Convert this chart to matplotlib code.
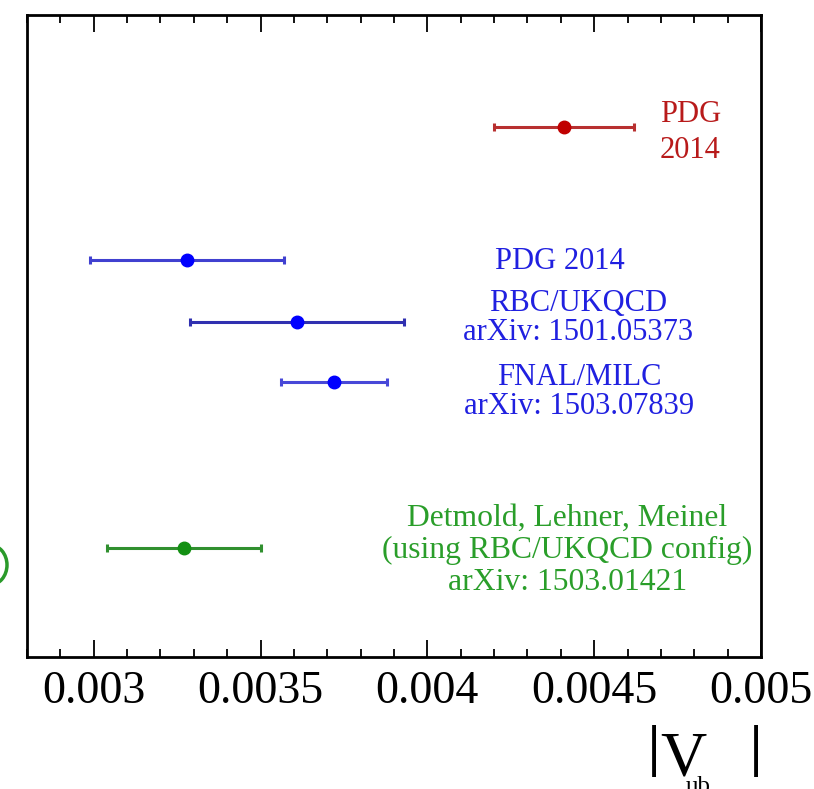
import matplotlib
matplotlib.use("Agg")
import matplotlib.pyplot as plt
from matplotlib.ticker import MultipleLocator, FixedLocator
from matplotlib.patches import Arc

plt.rcParams['font.family'] = ['Liberation Serif', 'DejaVu Serif']

# |V_ub| determinations: central value and symmetric error
labels = ["PDG\n2014",
          "PDG 2014",
          "RBC/UKQCD\narXiv: 1501.05373",
          "FNAL/MILC\narXiv: 1503.07839",
          "Detmold, Lehner, Meinel\n(using RBC/UKQCD config)\narXiv: 1503.01421"]
values = [0.00441, 0.00328, 0.00361, 0.00372, 0.00327]
errors = [0.00021, 0.00029, 0.00032, 0.00016, 0.00023]
rows = [8.67, 6.5, 5.48, 4.5, 1.78]
colors = ["#b81a1a", "#2020e0", "#2020e0", "#2020e0", "#2a9e2a"]
line_colors = ["#b83030", "#4040d0", "#3030b0", "#4848d8", "#30902f"]
marker_colors = ["#c00000", "#0000ff", "#0000ff", "#0000ff", "#139013"]
label_x = [0.004788, 0.004398, 0.004452, 0.004455, 0.004420]
label_rows = [8.58, 6.47, 5.55, 4.34, 1.74]
label_sizes = [22, 22, 22, 22, 22.8]
label_spacing = [1.32, 1.0, 1.0, 1.0, 1.14]

xticks = [0.003, 0.0035, 0.004, 0.0045, 0.005]
xtick_labels = ["0.003", "0.0035", "0.004", "0.0045", "0.005"]

fig = plt.figure(figsize=(8.14, 7.89), dpi=100)
ax = fig.add_axes([27 / 814, 1 - 657 / 789, 734 / 814, 642 / 789])

for v, e, y, lc, mc in zip(values, errors, rows, line_colors, marker_colors):
    ax.errorbar(v, y, xerr=e, fmt='o', color=lc, mfc=mc, mec=mc, ms=9,
                elinewidth=2.2, capsize=3, capthick=2.2)

for t, x, y, c, s, ls in zip(labels, label_x, label_rows, colors, label_sizes, label_spacing):
    ax.text(x, y, t, color=c, fontsize=s, ha='center', va='center',
            linespacing=ls)

ax.set_xlim(0.0028, 0.005)
ax.set_ylim(0, 10.5)
ax.xaxis.set_major_locator(FixedLocator(xticks))
ax.set_xticklabels(xtick_labels, fontsize=33)
ax.xaxis.set_minor_locator(MultipleLocator(0.0001))
ax.tick_params(axis='x', which='major', direction='in', top=True, bottom=True,
               length=12, width=1.3, pad=10)
ax.tick_params(axis='x', which='minor', direction='in', top=True, bottom=True,
               length=6, width=1.3)
ax.tick_params(axis='y', left=False, right=False, labelleft=False)
for sp in ax.spines.values():
    sp.set_linewidth(2.0)

# Axis title |V_ub|, set in pieces so the subscript sits low under the V
bar_base = 1 - 765 / 789
fig.text(648 / 814, bar_base, "|", fontsize=40, fontweight='bold',
         ha='left', va='baseline')
fig.text(660 / 814, 1 - 775 / 789, "V", fontsize=46, ha='left', va='baseline')
fig.text(698 / 814, 1 - 793 / 789, "ub", fontsize=18, ha='center', va='baseline')
fig.text(762 / 814, bar_base, "|", fontsize=40, fontweight='bold',
         ha='right', va='baseline')

# Edge of a neighbouring panel's marker, cut off at the left margin
arc = Arc((-10 / 814, 1 - 565 / 789), 34 / 814, 40 / 789, theta1=-90, theta2=90,
          transform=fig.transFigure, color="#2a9a2a", lw=2.5)
fig.add_artist(arc)

fig.savefig("out.png", dpi=100)
